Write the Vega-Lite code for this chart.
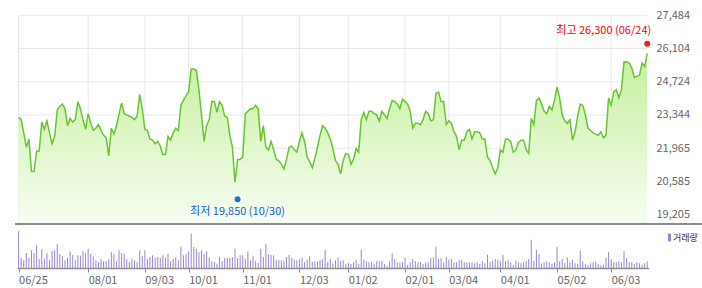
{
  "$schema": "https://vega.github.io/schema/vega-lite/v6.json",
  "width": 687,
  "height": 253,
  "autosize": {"type": "none"},
  "padding": {"left": 15, "top": 15, "right": 0, "bottom": 20},
  "background": "white",
  "config": {"view": {"stroke": null}, "font": "Noto Sans CJK KR"},
  "datasets": {
    "prices": [
      {"d":"2018-06-25","c":23250,"v":1100000},{"d":"2018-06-26","c":23150,"v":310000},{"d":"2018-06-27","c":22600,"v":230000},{"d":"2018-06-28","c":22000,"v":450000},{"d":"2018-06-29","c":22350,"v":300000},
      {"d":"2018-07-02","c":21000,"v":530000},{"d":"2018-07-03","c":21000,"v":450000},{"d":"2018-07-04","c":21850,"v":680000},{"d":"2018-07-05","c":21850,"v":260000},{"d":"2018-07-06","c":23050,"v":560000},
      {"d":"2018-07-09","c":22750,"v":280000},{"d":"2018-07-10","c":23100,"v":450000},{"d":"2018-07-11","c":22600,"v":230000},{"d":"2018-07-12","c":22150,"v":510000},{"d":"2018-07-13","c":22450,"v":530000},
      {"d":"2018-07-16","c":23550,"v":710000},{"d":"2018-07-17","c":23700,"v":410000},{"d":"2018-07-18","c":23800,"v":350000},{"d":"2018-07-19","c":23600,"v":230000},{"d":"2018-07-20","c":22900,"v":300000},
      {"d":"2018-07-23","c":23200,"v":500000},{"d":"2018-07-24","c":23050,"v":390000},{"d":"2018-07-25","c":23150,"v":230000},{"d":"2018-07-26","c":23900,"v":380000},{"d":"2018-07-27","c":23600,"v":370000},
      {"d":"2018-07-30","c":23150,"v":500000},{"d":"2018-07-31","c":22750,"v":450000},
      {"d":"2018-08-01","c":23400,"v":580000},{"d":"2018-08-02","c":23000,"v":430000},{"d":"2018-08-03","c":22700,"v":350000},
      {"d":"2018-08-06","c":22800,"v":230000},{"d":"2018-08-07","c":22950,"v":180000},{"d":"2018-08-08","c":22700,"v":280000},{"d":"2018-08-09","c":22500,"v":200000},{"d":"2018-08-10","c":22400,"v":200000},
      {"d":"2018-08-13","c":21650,"v":260000},{"d":"2018-08-14","c":22800,"v":470000},{"d":"2018-08-16","c":22550,"v":410000},{"d":"2018-08-17","c":22900,"v":200000},
      {"d":"2018-08-20","c":23400,"v":530000},{"d":"2018-08-21","c":23850,"v":450000},{"d":"2018-08-22","c":23400,"v":430000},{"d":"2018-08-23","c":23350,"v":260000},{"d":"2018-08-24","c":23300,"v":180000},
      {"d":"2018-08-27","c":23250,"v":280000},{"d":"2018-08-28","c":23150,"v":230000},{"d":"2018-08-29","c":23300,"v":180000},{"d":"2018-08-30","c":24200,"v":530000},{"d":"2018-08-31","c":23600,"v":360000},
      {"d":"2018-09-03","c":22750,"v":530000},{"d":"2018-09-04","c":22700,"v":260000},{"d":"2018-09-05","c":22350,"v":330000},{"d":"2018-09-06","c":22300,"v":380000},{"d":"2018-09-07","c":22150,"v":310000},
      {"d":"2018-09-10","c":22250,"v":330000},{"d":"2018-09-11","c":22050,"v":310000},{"d":"2018-09-12","c":21700,"v":380000},{"d":"2018-09-13","c":21700,"v":310000},{"d":"2018-09-14","c":22450,"v":430000},
      {"d":"2018-09-17","c":22300,"v":200000},{"d":"2018-09-18","c":22600,"v":280000},{"d":"2018-09-19","c":22800,"v":330000},{"d":"2018-09-20","c":22700,"v":230000},{"d":"2018-09-21","c":23750,"v":650000},
      {"d":"2018-09-27","c":23950,"v":380000},{"d":"2018-09-28","c":24150,"v":430000},
      {"d":"2018-10-01","c":24300,"v":500000},{"d":"2018-10-02","c":25250,"v":1030000},{"d":"2018-10-04","c":25250,"v":630000},{"d":"2018-10-05","c":25200,"v":580000},
      {"d":"2018-10-08","c":24400,"v":480000},{"d":"2018-10-10","c":23350,"v":530000},{"d":"2018-10-11","c":22250,"v":430000},{"d":"2018-10-12","c":22900,"v":500000},
      {"d":"2018-10-15","c":23150,"v":310000},{"d":"2018-10-16","c":23900,"v":200000},{"d":"2018-10-17","c":23900,"v":180000},{"d":"2018-10-18","c":23450,"v":130000},{"d":"2018-10-19","c":23900,"v":330000},
      {"d":"2018-10-22","c":23750,"v":200000},{"d":"2018-10-23","c":23300,"v":310000},{"d":"2018-10-24","c":23250,"v":300000},{"d":"2018-10-25","c":22500,"v":310000},{"d":"2018-10-26","c":22000,"v":330000},
      {"d":"2018-10-29","c":20550,"v":580000},{"d":"2018-10-30","c":21500,"v":300000},{"d":"2018-10-31","c":21500,"v":380000},
      {"d":"2018-11-01","c":21600,"v":380000},{"d":"2018-11-02","c":23400,"v":280000},
      {"d":"2018-11-05","c":23500,"v":500000},{"d":"2018-11-06","c":23600,"v":230000},{"d":"2018-11-07","c":23600,"v":350000},{"d":"2018-11-08","c":23750,"v":200000},{"d":"2018-11-09","c":23600,"v":150000},
      {"d":"2018-11-12","c":22250,"v":580000},{"d":"2018-11-13","c":22900,"v":330000},{"d":"2018-11-14","c":22000,"v":730000},{"d":"2018-11-15","c":21900,"v":410000},{"d":"2018-11-16","c":22250,"v":390000},
      {"d":"2018-11-19","c":21900,"v":380000},{"d":"2018-11-20","c":21500,"v":230000},{"d":"2018-11-21","c":21450,"v":230000},{"d":"2018-11-22","c":21300,"v":230000},{"d":"2018-11-23","c":21100,"v":210000},
      {"d":"2018-11-26","c":21500,"v":330000},{"d":"2018-11-27","c":22000,"v":400000},{"d":"2018-11-28","c":22050,"v":310000},{"d":"2018-11-29","c":21900,"v":250000},{"d":"2018-11-30","c":21800,"v":230000},
      {"d":"2018-12-03","c":22250,"v":260000},{"d":"2018-12-04","c":22600,"v":310000},{"d":"2018-12-05","c":22250,"v":180000},{"d":"2018-12-06","c":21600,"v":250000},{"d":"2018-12-07","c":21400,"v":350000},
      {"d":"2018-12-10","c":21150,"v":180000},{"d":"2018-12-11","c":21550,"v":200000},{"d":"2018-12-12","c":22000,"v":200000},{"d":"2018-12-13","c":22500,"v":250000},{"d":"2018-12-14","c":22900,"v":260000},
      {"d":"2018-12-17","c":22800,"v":550000},{"d":"2018-12-18","c":22600,"v":180000},{"d":"2018-12-19","c":22350,"v":280000},{"d":"2018-12-20","c":21950,"v":130000},{"d":"2018-12-21","c":21450,"v":230000},
      {"d":"2018-12-24","c":21300,"v":310000},{"d":"2018-12-26","c":20900,"v":210000},{"d":"2018-12-27","c":21450,"v":230000},{"d":"2018-12-28","c":21750,"v":110000},
      {"d":"2019-01-02","c":21700,"v":150000},{"d":"2019-01-03","c":21300,"v":120000},{"d":"2019-01-04","c":21500,"v":170000},
      {"d":"2019-01-07","c":21950,"v":240000},{"d":"2019-01-08","c":21800,"v":120000},{"d":"2019-01-09","c":23150,"v":550000},{"d":"2019-01-10","c":23450,"v":240000},{"d":"2019-01-11","c":23150,"v":200000},
      {"d":"2019-01-14","c":23500,"v":170000},{"d":"2019-01-15","c":23500,"v":170000},{"d":"2019-01-16","c":23400,"v":120000},{"d":"2019-01-17","c":23350,"v":200000},{"d":"2019-01-18","c":23100,"v":200000},
      {"d":"2019-01-21","c":23500,"v":220000},{"d":"2019-01-22","c":23350,"v":120000},{"d":"2019-01-23","c":23200,"v":70000},{"d":"2019-01-24","c":23600,"v":200000},{"d":"2019-01-25","c":23950,"v":440000},
      {"d":"2019-01-28","c":23900,"v":270000},{"d":"2019-01-29","c":23800,"v":170000},{"d":"2019-01-30","c":23600,"v":170000},{"d":"2019-01-31","c":24000,"v":170000},
      {"d":"2019-02-01","c":23900,"v":320000},{"d":"2019-02-07","c":23800,"v":100000},{"d":"2019-02-08","c":23500,"v":170000},
      {"d":"2019-02-11","c":22800,"v":270000},{"d":"2019-02-12","c":23000,"v":200000},{"d":"2019-02-13","c":23000,"v":170000},{"d":"2019-02-14","c":22950,"v":170000},{"d":"2019-02-15","c":23150,"v":120000},
      {"d":"2019-02-18","c":23500,"v":170000},{"d":"2019-02-19","c":23400,"v":170000},{"d":"2019-02-20","c":23100,"v":300000},{"d":"2019-02-21","c":23150,"v":320000},{"d":"2019-02-22","c":24250,"v":640000},
      {"d":"2019-02-25","c":24300,"v":270000},{"d":"2019-02-26","c":23900,"v":290000},{"d":"2019-02-27","c":23900,"v":170000},{"d":"2019-02-28","c":22950,"v":340000},
      {"d":"2019-03-04","c":23100,"v":240000},{"d":"2019-03-05","c":23000,"v":270000},{"d":"2019-03-06","c":22650,"v":170000},{"d":"2019-03-07","c":22450,"v":170000},{"d":"2019-03-08","c":21900,"v":240000},
      {"d":"2019-03-11","c":22300,"v":250000},{"d":"2019-03-12","c":22300,"v":170000},{"d":"2019-03-13","c":22650,"v":170000},{"d":"2019-03-14","c":22750,"v":170000},{"d":"2019-03-15","c":22350,"v":170000},
      {"d":"2019-03-18","c":22650,"v":140000},{"d":"2019-03-19","c":22650,"v":170000},{"d":"2019-03-20","c":22600,"v":120000},{"d":"2019-03-21","c":22350,"v":200000},{"d":"2019-03-22","c":22350,"v":140000},
      {"d":"2019-03-25","c":21600,"v":400000},{"d":"2019-03-26","c":21450,"v":170000},{"d":"2019-03-27","c":21150,"v":220000},{"d":"2019-03-28","c":20900,"v":270000},{"d":"2019-03-29","c":21150,"v":240000},
      {"d":"2019-04-01","c":21900,"v":200000},{"d":"2019-04-02","c":21800,"v":400000},{"d":"2019-04-03","c":22350,"v":220000},{"d":"2019-04-04","c":22350,"v":240000},{"d":"2019-04-05","c":22250,"v":170000},
      {"d":"2019-04-08","c":21800,"v":100000},{"d":"2019-04-09","c":21900,"v":220000},{"d":"2019-04-10","c":22200,"v":170000},{"d":"2019-04-11","c":22300,"v":140000},{"d":"2019-04-12","c":22300,"v":170000},
      {"d":"2019-04-15","c":21900,"v":220000},{"d":"2019-04-16","c":21750,"v":270000},{"d":"2019-04-17","c":23200,"v":850000},{"d":"2019-04-18","c":22950,"v":220000},{"d":"2019-04-19","c":23950,"v":540000},
      {"d":"2019-04-22","c":24050,"v":420000},{"d":"2019-04-23","c":23800,"v":140000},{"d":"2019-04-24","c":23500,"v":170000},{"d":"2019-04-25","c":23400,"v":200000},{"d":"2019-04-26","c":23700,"v":170000},
      {"d":"2019-04-29","c":23550,"v":120000},{"d":"2019-04-30","c":23950,"v":170000},
      {"d":"2019-05-02","c":24500,"v":640000},{"d":"2019-05-03","c":24050,"v":200000},
      {"d":"2019-05-07","c":23350,"v":270000},{"d":"2019-05-08","c":23100,"v":140000},{"d":"2019-05-09","c":23000,"v":320000},{"d":"2019-05-10","c":23150,"v":170000},
      {"d":"2019-05-13","c":22300,"v":240000},{"d":"2019-05-14","c":22650,"v":140000},{"d":"2019-05-15","c":23300,"v":120000},{"d":"2019-05-16","c":23800,"v":520000},{"d":"2019-05-17","c":23750,"v":200000},
      {"d":"2019-05-20","c":23350,"v":120000},{"d":"2019-05-21","c":22800,"v":100000},{"d":"2019-05-22","c":22700,"v":140000},{"d":"2019-05-23","c":22600,"v":170000},{"d":"2019-05-24","c":22550,"v":170000},
      {"d":"2019-05-27","c":22500,"v":120000},{"d":"2019-05-28","c":22650,"v":70000},{"d":"2019-05-29","c":22400,"v":100000},{"d":"2019-05-30","c":22500,"v":300000},{"d":"2019-05-31","c":24050,"v":470000},
      {"d":"2019-06-03","c":23750,"v":270000},{"d":"2019-06-04","c":24300,"v":170000},{"d":"2019-06-05","c":24400,"v":170000},{"d":"2019-06-07","c":24050,"v":200000},
      {"d":"2019-06-10","c":24400,"v":170000},{"d":"2019-06-11","c":25550,"v":500000},{"d":"2019-06-12","c":25550,"v":300000},{"d":"2019-06-13","c":25500,"v":170000},{"d":"2019-06-14","c":25300,"v":170000},
      {"d":"2019-06-17","c":24900,"v":120000},{"d":"2019-06-18","c":24950,"v":170000},{"d":"2019-06-19","c":25000,"v":140000},{"d":"2019-06-20","c":25500,"v":100000},{"d":"2019-06-21","c":25350,"v":140000},
      {"d":"2019-06-24","c":25900,"v":200000}
    ],
    "ticks": [{"t":19205},{"t":20585},{"t":21965},{"t":23344},{"t":24724},{"t":26104},{"t":27484}],
    "months": [{"d":"2018-06-25"},{"d":"2018-08-01"},{"d":"2018-09-03"},{"d":"2018-10-01"},{"d":"2018-11-01"},{"d":"2018-12-03"},{"d":"2019-01-02"},{"d":"2019-02-01"},{"d":"2019-03-04"},{"d":"2019-04-01"},{"d":"2019-05-02"},{"d":"2019-06-03"}],
    "extremes": [
      {"d":"2018-10-30","p":19850,"label":"최저 19,850 (10/30)","kind":"low"},
      {"d":"2019-06-24","p":26300,"label":"최고 26,300 (06/24)","kind":"high"}
    ]
  },
  "resolve": {"scale": {"y": "independent"}},
  "layer": [
    {
      "data": {"name": "ticks"},
      "mark": {"type": "rule", "color": "#e8e8e8", "strokeWidth": 1},
      "encoding": {
        "y": {"field": "t", "type": "quantitative", "scale": {"domain": [16991, 27496], "nice": false, "zero": false}, "axis": null},
        "x": {"datum": "2018-06-25", "type": "ordinal", "scale": {"type": "point", "range": [2.3, 633.5]},
          "axis": {"orient": "bottom", "values": ["2018-06-25","2018-08-01","2018-09-03","2018-10-01","2018-11-01","2018-12-03","2019-01-02","2019-02-01","2019-03-04","2019-04-01","2019-05-02","2019-06-03"], "labelExpr": "substring(datum.value, 5, 7) + '/' + substring(datum.value, 8, 10)", "labelAlign": "left", "labelAngle": 0, "tickSize": 4, "tickColor": "#8c8c8c", "domainColor": "#8c8c8c", "domainWidth": 1.5, "labelColor": "#666666", "labelFontSize": 11, "labelFont": "Noto Sans CJK KR", "labelPadding": 2, "grid": false, "title": null}},
        "x2": {"datum": "2019-06-24"}
      }
    },
    {
      "data": {"name": "months"},
      "mark": {"type": "rule", "color": "#e8e8e8", "strokeWidth": 1},
      "encoding": {
        "x": {"field": "d", "type": "ordinal", "scale": {"type": "point", "range": [2.3, 633.5]},
          "axis": {"orient": "bottom", "values": ["2018-06-25","2018-08-01","2018-09-03","2018-10-01","2018-11-01","2018-12-03","2019-01-02","2019-02-01","2019-03-04","2019-04-01","2019-05-02","2019-06-03"], "labelExpr": "substring(datum.value, 5, 7) + '/' + substring(datum.value, 8, 10)", "labelAlign": "left", "labelAngle": 0, "tickSize": 4, "tickColor": "#8c8c8c", "domainColor": "#8c8c8c", "domainWidth": 1.5, "labelColor": "#666666", "labelFontSize": 11, "labelFont": "Noto Sans CJK KR", "labelPadding": 2, "grid": false, "title": null}},
        "y": {"datum": 27484, "type": "quantitative", "scale": {"domain": [16991, 27496], "nice": false, "zero": false}, "axis": null},
        "y2": {"datum": 18806}
      }
    },
    {
      "data": {"name": "prices"},
      "mark": {"type": "area", "fill": {"gradient": "linear", "x1": 0, "y1": 1, "x2": 0, "y2": 0, "stops": [{"offset": 0, "color": "#f8fdf3"}, {"offset": 1, "color": "#c5ef9d"}]}},
      "encoding": {
        "x": {"field": "d", "type": "ordinal", "scale": {"type": "point", "range": [2.3, 633.5]},
          "axis": {"orient": "bottom", "values": ["2018-06-25","2018-08-01","2018-09-03","2018-10-01","2018-11-01","2018-12-03","2019-01-02","2019-02-01","2019-03-04","2019-04-01","2019-05-02","2019-06-03"], "labelExpr": "substring(datum.value, 5, 7) + '/' + substring(datum.value, 8, 10)", "labelAlign": "left", "labelAngle": 0, "tickSize": 4, "tickColor": "#8c8c8c", "domainColor": "#8c8c8c", "domainWidth": 1.5, "labelColor": "#666666", "labelFontSize": 11, "labelFont": "Noto Sans CJK KR", "labelPadding": 2, "grid": false, "title": null}},
        "y": {"field": "c", "type": "quantitative", "scale": {"domain": [16991, 27496], "nice": false, "zero": false}, "axis": null},
        "y2": {"datum": 18806}
      }
    },
    {
      "data": {"name": "prices"},
      "mark": {"type": "line", "color": "#66c531", "strokeWidth": 1.5},
      "encoding": {
        "x": {"field": "d", "type": "ordinal", "scale": {"type": "point", "range": [2.3, 633.5]},
          "axis": {"orient": "bottom", "values": ["2018-06-25","2018-08-01","2018-09-03","2018-10-01","2018-11-01","2018-12-03","2019-01-02","2019-02-01","2019-03-04","2019-04-01","2019-05-02","2019-06-03"], "labelExpr": "substring(datum.value, 5, 7) + '/' + substring(datum.value, 8, 10)", "labelAlign": "left", "labelAngle": 0, "tickSize": 4, "tickColor": "#8c8c8c", "domainColor": "#8c8c8c", "domainWidth": 1.5, "labelColor": "#666666", "labelFontSize": 11, "labelFont": "Noto Sans CJK KR", "labelPadding": 2, "grid": false, "title": null}},
        "y": {"field": "c", "type": "quantitative", "scale": {"domain": [16991, 27496], "nice": false, "zero": false},
          "axis": {"orient": "right", "offset": -46, "values": [19205, 20585, 21965, 23344, 24724, 26104, 27484], "labelExpr": "format(datum.value, ',')", "grid": false, "domain": false, "ticks": false, "labelPadding": 0, "labelColor": "#666666", "labelFontSize": 11, "labelFont": "Noto Sans CJK KR", "title": null}}
      }
    },
    {
      "data": {"name": "months"},
      "mark": {"type": "rule", "color": "#8c8c8c", "strokeWidth": 1.5},
      "encoding": {
        "y": {"datum": 18806, "type": "quantitative", "scale": {"domain": [16991, 27496], "nice": false, "zero": false}, "axis": null}
      }
    },
    {
      "data": {"name": "prices"},
      "mark": {"type": "bar", "width": 1},
      "encoding": {
        "x": {"field": "d", "type": "ordinal", "scale": {"type": "point", "range": [2.3, 633.5]},
          "axis": {"orient": "bottom", "values": ["2018-06-25","2018-08-01","2018-09-03","2018-10-01","2018-11-01","2018-12-03","2019-01-02","2019-02-01","2019-03-04","2019-04-01","2019-05-02","2019-06-03"], "labelExpr": "substring(datum.value, 5, 7) + '/' + substring(datum.value, 8, 10)", "labelAlign": "left", "labelAngle": 0, "tickSize": 4, "tickColor": "#8c8c8c", "domainColor": "#8c8c8c", "domainWidth": 1.5, "labelColor": "#666666", "labelFontSize": 11, "labelFont": "Noto Sans CJK KR", "labelPadding": 2, "grid": false, "title": null}},
        "y": {"field": "v", "type": "quantitative", "scale": {"domain": [0, 7590000], "nice": false}, "axis": null},
        "color": {"datum": "거래량", "scale": {"range": ["#9a85d2"]},
          "legend": {"orient": "none", "legendX": 650, "legendY": 218, "title": null, "symbolType": "M-0.4,-1H0.4V1H-0.4Z", "symbolSize": 60, "symbolStrokeWidth": 0, "labelFontSize": 9, "labelColor": "#333333", "labelOffset": -1, "labelFont": "Noto Sans CJK KR", "padding": 0}}
      }
    },
    {
      "data": {"name": "extremes"},
      "mark": {"type": "point", "filled": true, "size": 36, "opacity": 1},
      "encoding": {
        "x": {"field": "d", "type": "ordinal", "scale": {"type": "point", "range": [2.3, 633.5]},
          "axis": {"orient": "bottom", "values": ["2018-06-25","2018-08-01","2018-09-03","2018-10-01","2018-11-01","2018-12-03","2019-01-02","2019-02-01","2019-03-04","2019-04-01","2019-05-02","2019-06-03"], "labelExpr": "substring(datum.value, 5, 7) + '/' + substring(datum.value, 8, 10)", "labelAlign": "left", "labelAngle": 0, "tickSize": 4, "tickColor": "#8c8c8c", "domainColor": "#8c8c8c", "domainWidth": 1.5, "labelColor": "#666666", "labelFontSize": 11, "labelFont": "Noto Sans CJK KR", "labelPadding": 2, "grid": false, "title": null}},
        "y": {"field": "p", "type": "quantitative", "scale": {"domain": [16991, 27496], "nice": false, "zero": false}, "axis": null},
        "color": {"condition": {"test": "datum.kind === 'high'", "value": "#ff1a1a"}, "value": "#1f6fe0"}
      }
    },
    {
      "data": {"name": "extremes"},
      "transform": [{"filter": "datum.kind === 'low'"}],
      "mark": {"type": "text", "align": "center", "baseline": "middle", "dy": 12.5, "fontSize": 11, "font": "Noto Sans CJK KR", "color": "#1560d4"},
      "encoding": {
        "x": {"field": "d", "type": "ordinal", "scale": {"type": "point", "range": [2.3, 633.5]},
          "axis": {"orient": "bottom", "values": ["2018-06-25","2018-08-01","2018-09-03","2018-10-01","2018-11-01","2018-12-03","2019-01-02","2019-02-01","2019-03-04","2019-04-01","2019-05-02","2019-06-03"], "labelExpr": "substring(datum.value, 5, 7) + '/' + substring(datum.value, 8, 10)", "labelAlign": "left", "labelAngle": 0, "tickSize": 4, "tickColor": "#8c8c8c", "domainColor": "#8c8c8c", "domainWidth": 1.5, "labelColor": "#666666", "labelFontSize": 11, "labelFont": "Noto Sans CJK KR", "labelPadding": 2, "grid": false, "title": null}},
        "y": {"field": "p", "type": "quantitative", "scale": {"domain": [16991, 27496], "nice": false, "zero": false}, "axis": null},
        "text": {"field": "label"}
      }
    },
    {
      "data": {"name": "extremes"},
      "transform": [{"filter": "datum.kind === 'high'"}],
      "mark": {"type": "text", "align": "right", "baseline": "middle", "dx": 4, "dy": -13, "fontSize": 11, "font": "Noto Sans CJK KR", "color": "#f50000"},
      "encoding": {
        "x": {"field": "d", "type": "ordinal", "scale": {"type": "point", "range": [2.3, 633.5]},
          "axis": {"orient": "bottom", "values": ["2018-06-25","2018-08-01","2018-09-03","2018-10-01","2018-11-01","2018-12-03","2019-01-02","2019-02-01","2019-03-04","2019-04-01","2019-05-02","2019-06-03"], "labelExpr": "substring(datum.value, 5, 7) + '/' + substring(datum.value, 8, 10)", "labelAlign": "left", "labelAngle": 0, "tickSize": 4, "tickColor": "#8c8c8c", "domainColor": "#8c8c8c", "domainWidth": 1.5, "labelColor": "#666666", "labelFontSize": 11, "labelFont": "Noto Sans CJK KR", "labelPadding": 2, "grid": false, "title": null}},
        "y": {"field": "p", "type": "quantitative", "scale": {"domain": [16991, 27496], "nice": false, "zero": false}, "axis": null},
        "text": {"field": "label"}
      }
    }
  ]
}
